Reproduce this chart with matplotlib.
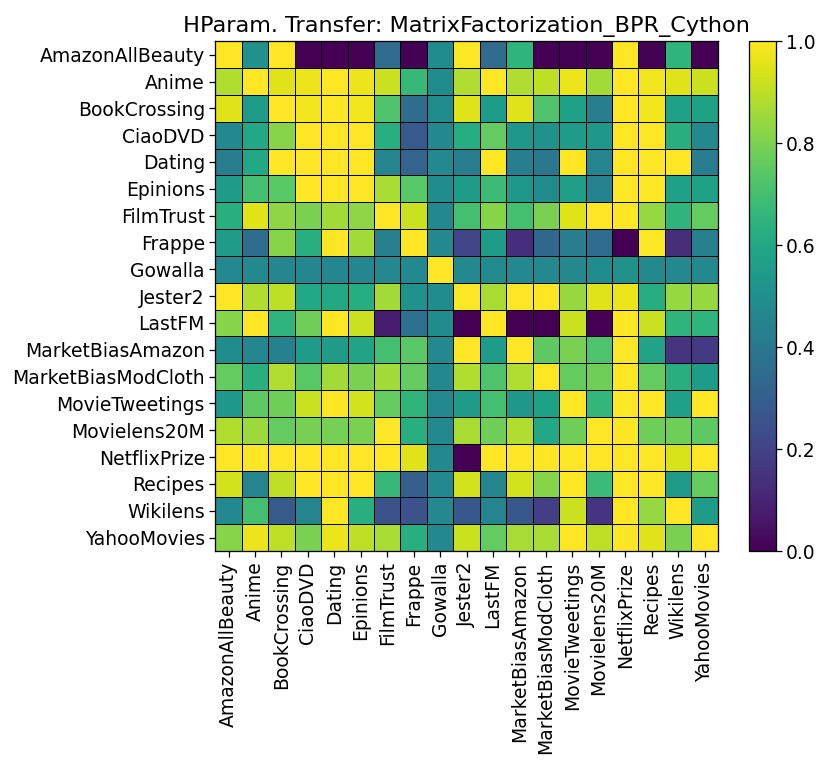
import numpy as np
import matplotlib
matplotlib.use("Agg")
import matplotlib.pyplot as plt

datasets = ["AmazonAllBeauty", "Anime", "BookCrossing", "CiaoDVD", "Dating", "Epinions",
            "FilmTrust", "Frappe", "Gowalla", "Jester2", "LastFM", "MarketBiasAmazon",
            "MarketBiasModCloth", "MovieTweetings", "Movielens20M", "NetflixPrize",
            "Recipes", "Wikilens", "YahooMovies"]

# rows: source dataset, columns: target dataset
r_amazon = [1.0, 0.5, 1.0, 0.0, 0.0, 0.0, 0.35, 0.0, 0.48, 1.0, 0.35, 0.65, 0.0, 0.0, 0.0, 1.0, 0.0, 0.65, 0.0]
r_anime = [0.88, 1.0, 0.95, 0.97, 1.0, 0.97, 0.92, 0.67, 0.48, 0.88, 1.0, 0.88, 0.9, 0.97, 0.86, 1.0, 0.98, 0.95, 0.92]
r_book = [0.95, 0.55, 1.0, 0.98, 1.0, 0.98, 0.72, 0.35, 0.48, 0.95, 0.55, 0.95, 0.72, 0.57, 0.42, 1.0, 0.98, 0.57, 0.57]
r_ciao = [0.47, 0.6, 0.82, 1.0, 1.0, 1.0, 0.63, 0.28, 0.47, 0.62, 0.76, 0.53, 0.5, 0.55, 0.53, 1.0, 1.0, 0.63, 0.47]
r_dating = [0.42, 0.6, 1.0, 1.0, 1.0, 1.0, 0.45, 0.32, 0.47, 0.42, 1.0, 0.42, 0.4, 1.0, 0.45, 1.0, 1.0, 1.0, 0.42]
r_epinions = [0.55, 0.7, 0.74, 1.0, 1.0, 1.0, 0.87, 0.74, 0.48, 0.55, 0.68, 0.53, 0.48, 0.56, 0.44, 1.0, 1.0, 0.57, 0.57]
r_filmtrust = [0.63, 0.95, 0.83, 0.8, 0.86, 0.83, 1.0, 0.92, 0.47, 0.7, 0.82, 0.7, 0.8, 0.95, 1.0, 1.0, 0.84, 0.65, 0.76]
r_frappe = [0.55, 0.35, 0.82, 0.63, 1.0, 0.86, 0.43, 1.0, 0.47, 0.2, 0.55, 0.13, 0.33, 0.42, 0.35, 0.0, 1.0, 0.13, 0.43]
r_gowalla = [0.47, 0.47, 0.46, 0.46, 0.46, 0.46, 0.47, 0.47, 1.0, 0.47, 0.48, 0.47, 0.47, 0.47, 0.48, 0.5, 0.47, 0.47, 0.47]
r_jester = [1.0, 0.88, 0.9, 0.6, 0.6, 0.62, 0.86, 0.5, 0.48, 1.0, 0.87, 1.0, 1.0, 0.84, 0.95, 0.97, 0.62, 0.84, 0.84]
r_lastfm = [0.82, 1.0, 0.65, 0.78, 1.0, 0.92, 0.08, 0.37, 0.48, 0.0, 1.0, 0.0, 0.0, 0.92, 0.0, 1.0, 0.92, 0.65, 0.65]
r_mba = [0.48, 0.46, 0.43, 0.55, 0.55, 0.58, 0.7, 0.74, 0.47, 1.0, 0.55, 1.0, 0.75, 0.8, 0.72, 1.0, 0.58, 0.15, 0.17]
r_mbmc = [0.76, 0.63, 0.88, 0.74, 0.86, 0.8, 0.86, 0.76, 0.47, 0.88, 0.72, 0.88, 1.0, 0.76, 0.78, 1.0, 0.76, 0.63, 0.55]
r_tweet = [0.53, 0.75, 0.78, 0.92, 1.0, 0.93, 0.76, 0.65, 0.47, 0.55, 0.7, 0.53, 0.57, 1.0, 0.66, 1.0, 1.0, 0.57, 1.0]
r_ml20m = [0.88, 0.85, 0.76, 0.79, 0.79, 0.8, 1.0, 0.63, 0.47, 0.87, 0.78, 0.88, 0.6, 0.78, 1.0, 1.0, 0.78, 0.78, 0.75]
r_netflix = [1.0, 1.0, 1.0, 1.0, 1.0, 1.0, 1.0, 0.95, 0.47, 0.0, 1.0, 1.0, 1.0, 1.0, 1.0, 1.0, 1.0, 0.94, 1.0]
r_recipes = [0.93, 0.45, 0.9, 1.0, 1.0, 1.0, 0.67, 0.3, 0.47, 0.93, 0.45, 0.93, 0.82, 1.0, 0.68, 1.0, 1.0, 0.55, 0.76]
r_wikilens = [0.47, 0.7, 0.28, 0.45, 1.0, 0.63, 0.25, 0.25, 0.47, 0.27, 0.45, 0.27, 0.18, 0.92, 0.15, 1.0, 0.84, 1.0, 0.55]
r_yahoo = [0.82, 0.97, 0.9, 0.8, 0.97, 0.9, 0.87, 0.63, 0.47, 0.92, 0.76, 0.87, 0.87, 1.0, 0.9, 1.0, 0.95, 0.8, 1.0]

M = np.array([r_amazon, r_anime, r_book, r_ciao, r_dating, r_epinions, r_filmtrust,
              r_frappe, r_gowalla, r_jester, r_lastfm, r_mba, r_mbmc, r_tweet,
              r_ml20m, r_netflix, r_recipes, r_wikilens, r_yahoo])

plt.rcParams['axes.linewidth'] = 0.92

fig = plt.figure(figsize=(8.31, 7.67), dpi=100)
ax = fig.add_axes([0.2591, 0.2816, 0.6046, 0.6646])
mesh = ax.pcolormesh(M, cmap="viridis", vmin=0, vmax=1, edgecolors="k", linewidth=0.7)
n = len(datasets)
ax.set_xlim(0, n)
ax.set_ylim(n, 0)
ax.set_xticks(np.arange(n) + 0.5)
ax.set_yticks(np.arange(n) + 0.5)
ax.set_xticklabels(datasets, rotation=90, fontsize=13.5)
ax.set_yticklabels(datasets, fontsize=13.5)
ax.tick_params(length=4, width=0.92)
ax.set_title("HParam. Transfer: MatrixFactorization_BPR_Cython", fontsize=16.1, pad=7)

cax = fig.add_axes([0.9013, 0.2816, 0.0321, 0.6646])
cb = fig.colorbar(mesh, cax=cax)
cb.set_ticks([0, 0.2, 0.4, 0.6, 0.8, 1.0])
cb.ax.tick_params(labelsize=13.5, length=4, width=0.92)
cb.outline.set_linewidth(0.92)

fig.savefig("out.png", dpi=100)
